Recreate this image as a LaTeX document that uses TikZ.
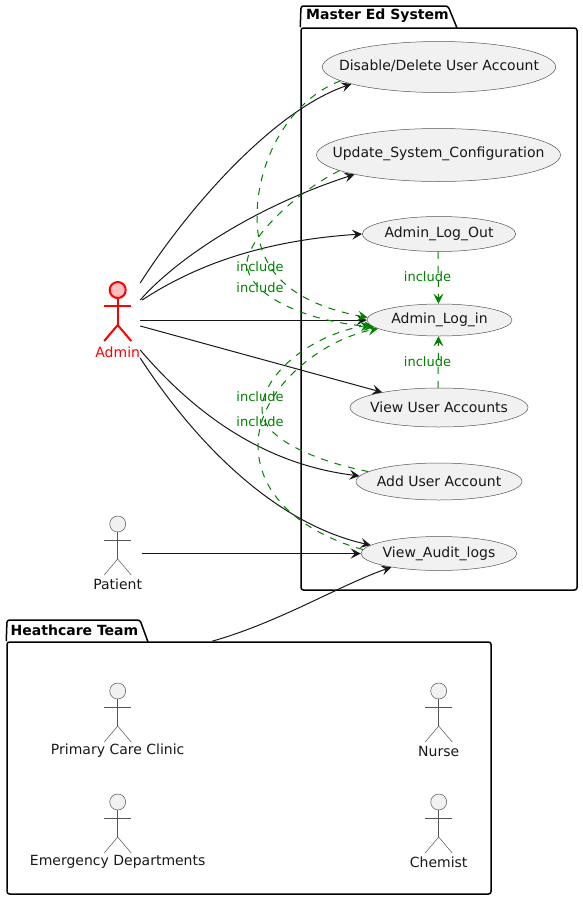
\documentclass[tikz,border=0pt]{standalone}
\usepackage{fontspec}
\setmainfont{DejaVu Sans}
\usepackage{xcolor}
\usetikzlibrary{arrows.meta,shapes.geometric}

\definecolor{inkblk}{HTML}{181818}
\definecolor{inkgray}{HTML}{555555}
\definecolor{inclgreen}{HTML}{008000}
\definecolor{ucfill}{HTML}{F1F1F1}

\tikzset{
  pics/stick/.style={code={
    \draw[pic actions] (0,0) circle (8);
    \draw[pic actions, fill=none] (0,8) -- (0,35);
    \draw[pic actions, fill=none] (-13.5,16) -- (13.5,16);
    \draw[pic actions, fill=none] (-13.5,51) -- (0,35) -- (13.5,51);
  }}
}

\begin{document}
\begin{tikzpicture}[
    x=1pt, y=-1pt,
    every node/.style={font=\fontsize{14}{16}\selectfont, text=inkblk},
    uc/.style={draw=inkgray, line width=0.5pt, fill=ucfill, ellipse, inner sep=0pt, minimum width=#1},
    pkg/.style={draw=black, line width=1.5pt, rounded corners=2.5pt, inner sep=0pt},
    pkgtitle/.style={font=\fontsize{14}{16}\selectfont\bfseries, text=black, inner sep=0pt},
    actlbl/.style={inner sep=0pt},
    plainact/.style={draw=inkgray, line width=0.5pt, fill=ucfill},
    redact/.style={draw=red, line width=2pt, fill=pink},
    arr/.style={-{Stealth[length=10pt, width=10pt, inset=4pt]}, draw=inkblk, line width=1pt},
    incl/.style={-{Stealth[length=10pt, width=10pt, inset=4pt]}, draw=inclgreen, line width=1pt, dash pattern=on 7pt off 7pt},
    incltxt/.style={font=\fontsize{13}{15}\selectfont, text=inclgreen, inner sep=0pt}
  ]
    \useasboundingbox (0,0) rectangle (582,900);

    % packages
    \node[pkg, minimum width=276pt, minimum height=562pt] (master) at (439,309) {};
    \draw[line width=1.5pt, rounded corners=2.5pt] (master.north west) -- (301,6) -- (448,6) -- (457,28);
    \node[pkgtitle, anchor=west] (mastertitle) at (306,16) {Master Ed System};

    \node[pkg, minimum width=484pt, minimum height=252pt] (team) at (249,768) {};
    \draw[line width=1.5pt, rounded corners=2.5pt] (team.north west) -- (7,620) -- (140,620) -- (148,642);
    \node[pkgtitle, anchor=west] (teamtitle) at (10.5,630) {Heathcare Team};

    % use cases
    \node[uc=233.4pt, minimum height=51pt, label={[yshift=1pt]center:Disable/Delete User Account}] (dis) at (439,67) {};
    \node[uc=244pt, minimum height=53pt, label={[yshift=1pt]center:Update\_System\_Configuration}] (upd) at (438.5,155) {};
    \node[uc=153.4pt, minimum height=35pt, label={center:Admin\_Log\_Out}] (out) at (439,234) {};
    \node[uc=145pt, minimum height=32pt, label={center:Admin\_Log\_in}] (log) at (439.5,320) {};
    \node[uc=178pt, minimum height=39pt, label={center:View User Accounts}] (vua) at (439,407.5) {};
    \node[uc=166pt, minimum height=37pt, label={center:Add User Account}] (add) at (439,481.5) {};
    \node[uc=156pt, minimum height=34pt, label={center:View\_Audit\_logs}] (aud) at (439,553.5) {};

    % actors
    \node[actlbl, text=red] (admin) at (117.7,352) {Admin};
    \pic[redact] at ([yshift=62pt]admin.center) {stick};
    \node[actlbl] (patient) at (117.7,584) {Patient};
    \pic[plainact] at ([yshift=60pt]patient.center) {stick};
    \node[actlbl] (clinic) at (117.7,751) {Primary Care Clinic};
    \pic[plainact] at ([yshift=60pt]clinic.center) {stick};
    \node[actlbl] (emerg) at (117.7,862) {Emergency Departments};
    \pic[plainact] at ([yshift=60pt]emerg.center) {stick};
    \node[actlbl] (nurse) at (438.7,751) {Nurse};
    \pic[plainact] at ([yshift=60pt]nurse.center) {stick};
    \node[actlbl] (chem) at (438.7,862) {Chemist};
    \pic[plainact] at ([yshift=60pt]chem.center) {stick};

    % actor links
    \draw[arr] ([yshift=69pt]admin.east) .. controls (190,205) and (275,110) .. (dis.191);
    \draw[arr] ([yshift=52pt]admin.east) .. controls (180,255) and (260,205) .. (upd.193);
    \draw[arr] ([xshift=2pt, yshift=52pt]admin.east) .. controls (200,262) and (270,240) .. (out.west);
    \draw[arr] ([yshift=32pt]admin.east) -- (log.west);
    \draw[arr] ([yshift=26pt]admin.east) -- (vua.165);
    \draw[arr] ([yshift=2pt]admin.east) .. controls (200,420) and (270,465) .. (add.176);
    \draw[arr] ([yshift=-6pt]admin.east) .. controls (200,450) and (280,525) .. (aud.173.4);
    \draw[arr] ([yshift=30.5pt]patient.east) -- (aud.west);
    \draw[arr] ([xshift=-37pt]team.north) .. controls (280,622) and (340,585) .. (aud.196.5);

    % include links
    \draw[incl] (dis.188) .. controls (290,100) and (256,160) .. (257,220) .. controls (258,270) and (290,303) .. (log.178);
    \draw[incl] (upd.189) .. controls (300,190) and (250,235) .. (247,262) .. controls (245,290) and (295,320) .. (log.186);
    \draw[incl] (add.172) .. controls (320,462) and (262,440) .. (262,410) .. controls (262,375) and (310,335) .. (log.184);
    \draw[incl] (aud.177) .. controls (310,535) and (258,500) .. (258,445) .. controls (258,390) and (320,340) .. (log.188.7);
    \draw[incl] ([xshift=-1pt]out.south) -- ([xshift=-1pt]log.north);
    \draw[incl] ([xshift=-1pt]vua.north) -- ([xshift=-1pt]log.south);

    % include labels
    \node[incltxt] (inc1) at (260,267) {include};
    \node[incltxt] (inc2) at (260,288) {include};
    \node[incltxt] (inc3) at (260,397) {include};
    \node[incltxt] (inc4) at (260,422) {include};
    \node[incltxt] (inc5) at (427.5,277) {include};
    \node[incltxt] (inc6) at (427.5,362) {include};

  \end{tikzpicture}
\end{document}
